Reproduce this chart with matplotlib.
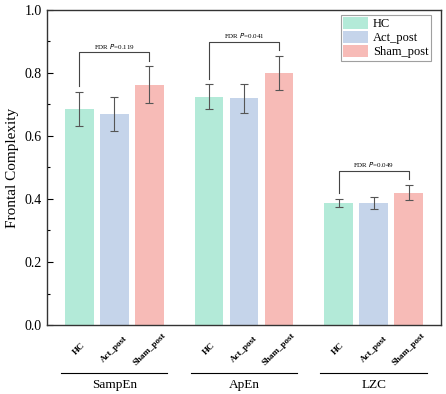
import numpy as np
import matplotlib
matplotlib.use("Agg")
import matplotlib.pyplot as plt

plt.rcParams['font.family'] = 'Liberation Serif'

measures = ['SampEn', 'ApEn', 'LZC']
groups = ['HC', 'Act_post', 'Sham_post']
hc_mean = [0.686, 0.724, 0.387]
hc_err = [0.053, 0.040, 0.014]
act_mean = [0.670, 0.720, 0.386]
act_err = [0.055, 0.046, 0.019]
sham_mean = [0.762, 0.800, 0.420]
sham_err = [0.059, 0.054, 0.024]
fdr_p = ['0.119', '0.041', '0.049']

colors = ['#b3ead8', '#c5d4ea', '#f7bbb7']
means = [hc_mean, act_mean, sham_mean]
errs = [hc_err, act_err, sham_err]

fig = plt.figure(figsize=(4.46, 3.94), dpi=100)
ax = fig.add_axes([0.105, 0.175, 0.884, 0.80])

x = np.arange(len(measures))
offsets = [-0.27, 0.0, 0.27]
width = 0.22
for g, name in enumerate(groups):
    ax.bar(x + offsets[g], means[g], width, color=colors[g], label=name,
           yerr=errs[g], ecolor='#555555', capsize=3,
           error_kw=dict(elinewidth=0.8, capthick=0.8))

# significance brackets between HC and Sham_post
for i in range(len(measures)):
    top_hc = hc_mean[i] + hc_err[i]
    top_sh = sham_mean[i] + sham_err[i]
    h = max(top_hc, top_sh) + 0.045
    x0, x1 = x[i] + offsets[0], x[i] + offsets[2]
    ax.plot([x0, x0, x1, x1], [top_hc + 0.018, h, h, top_sh + 0.018],
            color='#444444', lw=0.8)
    ax.text((x0 + x1) / 2, h + 0.005, f'FDR $\\it{{P}}$=' + fdr_p[i],
            ha='center', va='bottom', fontsize=5)

ax.set_xlim(-0.52, 2.52)
ax.set_ylim(0, 1.0)
ax.set_yticks(np.arange(0, 1.01, 0.2))
ax.set_yticks(np.arange(0, 1.01, 0.1), minor=True)
ax.set_yticklabels([f'{v:.1f}' for v in np.arange(0, 1.01, 0.2)], fontsize=10)
ax.tick_params(axis='y', direction='in', length=4, width=0.8)
ax.tick_params(axis='y', which='minor', direction='in', length=2, width=0.8)
ax.set_ylabel('Frontal Complexity', fontsize=11)

xt = np.concatenate([x[i] + np.array(offsets) for i in range(len(measures))])
ax.set_xticks(xt)
ax.set_xticklabels(groups * len(measures), rotation=45, ha='center', va='center',
                   rotation_mode='anchor', fontsize=6.5, fontweight='bold')
ax.tick_params(axis='x', length=0, pad=17)

for sp in ax.spines.values():
    sp.set_linewidth(1.0)
    sp.set_color('#333333')

trans = ax.get_xaxis_transform()
for i, m in enumerate(measures):
    ax.plot([x[i] - 0.41, x[i] + 0.41], [-0.152, -0.152], color='black',
            lw=0.8, transform=trans, clip_on=False)
    ax.text(x[i], -0.172, m, ha='center', va='top', fontsize=9.5, transform=trans)

leg = ax.legend(loc='upper right', fontsize=9, frameon=True, fancybox=False,
                edgecolor='#888888', handlelength=2.0, handleheight=1.1,
                handletextpad=0.4, borderpad=0.2, labelspacing=0.05,
                bbox_to_anchor=(0.975, 0.985), borderaxespad=0)
leg.get_frame().set_linewidth(0.8)

fig.savefig('out.png', dpi=100)
